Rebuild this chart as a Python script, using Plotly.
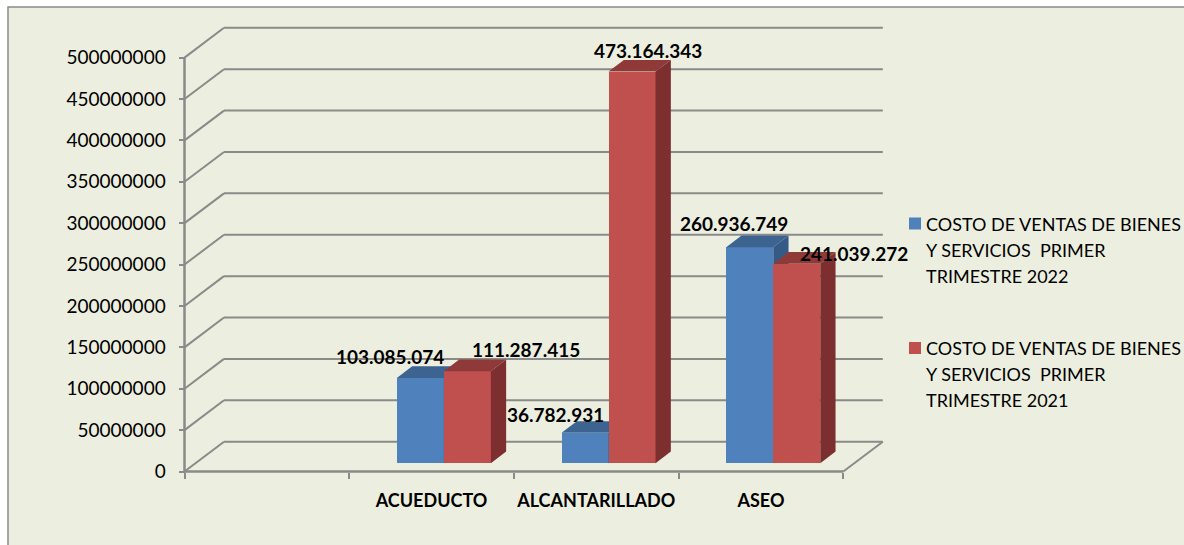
import plotly.graph_objects as go

# ---- data ----
categories = ["", "ACUEDUCTO", "ALCANTARILLADO", "ASEO"]
values_2022 = [None, 103085074, 36782931, 260936749]
values_2021 = [None, 111287415, 473164343, 241039272]
y_ticks = [0, 50000000, 100000000, 150000000, 200000000, 250000000,
           300000000, 350000000, 400000000, 450000000, 500000000]
legend_2022 = ["COSTO DE VENTAS DE BIENES", "Y SERVICIOS  PRIMER", "TRIMESTRE 2022"]
legend_2021 = ["COSTO DE VENTAS DE BIENES", "Y SERVICIOS  PRIMER", "TRIMESTRE 2021"]

# ---- layout constants (pixels) ----
W, H = 1184, 545
L, R, T, B = 160, 900, 15, 482
X0_PX, SLOT_PX = 184.5, 164.7        # pixel of category-axis origin, slot width
Y0_PX, V_PX = 471.5, 413.9 / 500e6   # pixel of value 0, pixel per unit

x_min = (L - X0_PX) / SLOT_PX
x_max = (R - X0_PX) / SLOT_PX
y_min = (Y0_PX - B) / V_PX
y_max = (Y0_PX - T) / V_PX

def dx(px): return px / SLOT_PX
def dy(px): return px / V_PX
def pap_x(px): return (px - L) / (R - L)
def pap_y(py): return (B - py) / (B - T)

WALL_DX, WALL_DY = dx(39.5), dy(29.8)   # floor depth
BASE_DX, BASE_DY = dx(12.3), dy(8.2)    # bars stand inside the floor
BAR_W = dx(47)
DEPTH_DX, DEPTH_DY = dx(15.3), dy(11.7) # bar depth

BG = "#ECEFDF"
GRID = "#8A8A8A"
BLUE, BLUE_TOP, BLUE_SIDE = "#4F81BD", "#3D6491", "#355A86"
RED, RED_TOP, RED_SIDE = "#C0504D", "#8F3A38", "#7C2F2E"
FONT = "Lato"

fig = go.Figure()

def add_series(values, group_sign, front, top, side, xa, ya, name):
    xs, ys, bases = [], [], []
    for i, v in enumerate(values):
        if v is None:
            continue
        x_left = i + 0.5 + BASE_DX + (BAR_W if group_sign > 0 else -BAR_W) / 2 - BAR_W / 2
        x_right = x_left + BAR_W
        y_top = BASE_DY + v
        xs.append((x_left + x_right) / 2); ys.append(v); bases.append(BASE_DY)
        fig.add_trace(go.Scatter(
            x=[x_left, x_right, x_right + DEPTH_DX, x_left + DEPTH_DX, x_left],
            y=[y_top, y_top, y_top + DEPTH_DY, y_top + DEPTH_DY, y_top],
            fill="toself", fillcolor=top, mode="lines", line=dict(width=0),
            xaxis=xa, yaxis=ya, showlegend=False, hoverinfo="skip"))
        fig.add_trace(go.Scatter(
            x=[x_right, x_right + DEPTH_DX, x_right + DEPTH_DX, x_right, x_right],
            y=[BASE_DY, BASE_DY + DEPTH_DY, y_top + DEPTH_DY, y_top, BASE_DY],
            fill="toself", fillcolor=side, mode="lines", line=dict(width=0),
            xaxis=xa, yaxis=ya, showlegend=False, hoverinfo="skip"))
    fig.add_trace(go.Bar(x=xs, y=ys, base=bases, width=BAR_W, marker=dict(color=front, line=dict(width=0)),
                         xaxis=xa, yaxis=ya, name=name, showlegend=False))

add_series(values_2022, -1, BLUE, BLUE_TOP, BLUE_SIDE, "x", "y", " ".join(legend_2022))
add_series(values_2021, 1, RED, RED_TOP, RED_SIDE, "x2", "y2", " ".join(legend_2021))

shapes = []
# chart frame
shapes.append(dict(type="rect", xref="paper", yref="paper", layer="below",
                   x0=pap_x(8), x1=pap_x(W + 10), y0=pap_y(7), y1=pap_y(H + 10),
                   fillcolor=BG, line=dict(color=GRID, width=1.5)))

def seg(x0, y0, x1, y1, width=2):
    shapes.append(dict(type="line", xref="x", yref="y", layer="below", x0=x0, y0=y0, x1=x1, y1=y1,
                       line=dict(color=GRID, width=width)))

n_slots = len(categories)
for v in y_ticks:
    seg(0, v, WALL_DX, v + WALL_DY)
    seg(WALL_DX, v + WALL_DY, n_slots + WALL_DX, v + WALL_DY)
seg(0, 0, 0, y_ticks[-1], 2.5)
seg(0, 0, n_slots, 0, 2.5)
seg(n_slots, 0, n_slots + WALL_DX, WALL_DY)

# data labels
def fmt(v): return format(v, ",").replace(",", ".")
label_shift_2022 = [None, (-30, 21.7), (-30, 18), (-16, 24)]
label_shift_2021 = [None, (59, 22), (15.5, 21.5), (57, 10)]
annotations = []
for vals, shifts, sgn in ((values_2022, label_shift_2022, -1), (values_2021, label_shift_2021, 1)):
    for i, v in enumerate(vals):
        if v is None:
            continue
        xc = i + 0.5 + BASE_DX + sgn * BAR_W / 2
        annotations.append(dict(x=xc, y=v + BASE_DY, xref="x", yref="y", text="<b>%s</b>" % fmt(v),
                                showarrow=False, xshift=shifts[i][0], yshift=shifts[i][1],
                                font=dict(family=FONT, size=19, color="#000000")))

# legend (drawn line by line to keep the original leading)
for lines, y_first, color in ((legend_2022, 223.5, BLUE), (legend_2021, 348, RED)):
    shapes.append(dict(type="rect", xref="paper", yref="paper", x0=pap_x(909), x1=pap_x(921),
                       y0=pap_y(y_first + 6), y1=pap_y(y_first - 6), fillcolor=color, line=dict(width=0)))
    for k, line in enumerate(lines):
        annotations.append(dict(x=pap_x(924), y=pap_y(y_first + 26 * k), xref="paper", yref="paper",
                                text=line.replace("  ", "&nbsp; "), showarrow=False, xanchor="left", yanchor="middle",
                                font=dict(family=FONT, size=18, color="#000000")))

axis_common = dict(range=[x_min, x_max], domain=[0, 1])
fig.update_layout(
    width=W, height=H, autosize=False,
    margin=dict(l=L, r=W - R, t=T, b=H - B, pad=0),
    paper_bgcolor="#FFFFFF", plot_bgcolor="rgba(0,0,0,0)",
    showlegend=False, bargap=0, barmode="overlay",
    shapes=shapes, annotations=annotations,
    xaxis=dict(**axis_common, anchor="free", position=(0 - y_min) / (y_max - y_min),
               showgrid=False, zeroline=False, showline=False,
               tickmode="array", tickvals=[i + 0.5 for i in range(n_slots)], ticktext=["<b>%s</b>" % c if c else "" for c in categories],
               ticks="", ticklabelstandoff=16, tickfont=dict(family=FONT, size=18, color="#000000"),
               minor=dict(tickmode="array", tickvals=list(range(n_slots + 1)), ticks="outside", ticklen=6,
                          tickwidth=1.5, tickcolor=GRID, showgrid=False)),
    yaxis=dict(range=[y_min, y_max], domain=[0, 1], anchor="free", position=(0 - x_min) / (x_max - x_min),
               showgrid=False, zeroline=False, showline=False,
               tickmode="array", tickvals=y_ticks, ticktext=[str(v) for v in y_ticks],
               ticks="outside", ticklen=6, tickwidth=1.5, tickcolor=GRID, ticklabelstandoff=9,
               tickfont=dict(family=FONT, size=19, color="#000000")),
    xaxis2=dict(**axis_common, overlaying="x", visible=False),
    yaxis2=dict(range=[y_min, y_max], domain=[0, 1], overlaying="y", visible=False),
)

fig.write_html("out.html", config=dict(displayModeBar=False),
               post_script="document.body.style.margin='0';document.body.style.overflow='hidden';")
